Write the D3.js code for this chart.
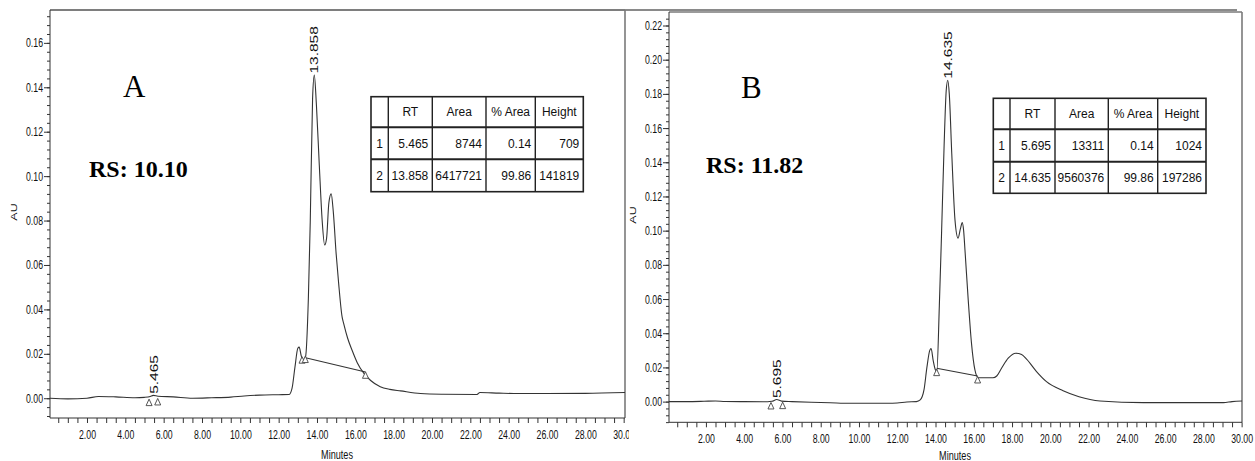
<!DOCTYPE html>
<html><head><meta charset="utf-8">
<script src="https://cdn.jsdelivr.net/npm/d3@7"></script>
<style>
html,body{margin:0;padding:0;background:#fff;}
svg{display:block;}
</style></head><body>
<svg id="chart" width="1255" height="461"></svg>
<script>
// ================= DATA =================
// Chromatogram A (Minutes, AU)
const timeA = [0.07,1.0,2.0,2.6,3.5,4.5,5.0,5.3,5.46,5.7,6.5,7.5,8.5,9.5,10.2,11.0,12.0,12.55,12.7,12.85,13.0,13.07,13.18,13.28,13.40,13.55,13.65,13.77,13.86,13.97,14.12,14.27,14.40,14.50,14.62,14.74,14.85,15.0,15.13,15.31,15.39,15.6,15.83,16.1,16.44,16.8,17.3,17.8,18.36,19.4,20.5,22.35,22.5,23.5,24.5,26.0,28.0,30.07];
const auA   = [0.0000,-0.0003,0.0000,0.0008,0.0006,0.0002,0.0004,0.0008,0.0013,0.0009,0.0006,0.0000,0.0002,0.0005,0.0010,0.0014,0.0016,0.0017,0.0045,0.0140,0.0225,0.0230,0.0190,0.0172,0.0185,0.0450,0.0800,0.1350,0.1455,0.1320,0.1050,0.0800,0.0690,0.0720,0.0880,0.0920,0.0840,0.0650,0.0517,0.0366,0.0337,0.0270,0.0216,0.0160,0.0113,0.0080,0.0052,0.0040,0.0033,0.0021,0.0018,0.0017,0.0026,0.0023,0.0021,0.0021,0.0022,0.0026];
// Chromatogram B (Minutes, AU)
const timeB = [0.07,1.0,1.9,2.5,3.0,4.0,5.0,5.45,5.7,5.95,6.5,7.5,8.5,9.5,10.5,11.5,12.0,12.5,13.0,13.2,13.4,13.55,13.7,13.77,13.88,14.0,14.07,14.2,14.32,14.45,14.56,14.64,14.72,14.85,15.02,15.18,15.30,15.40,15.47,15.54,15.71,15.88,16.06,16.23,16.6,17.0,17.2,17.45,17.8,18.2,18.5,18.76,19.28,19.8,20.67,21.5,22.6,24.86,27.0,29.05,29.5,30.02];
const auB   = [0.0000,0.0000,0.0002,0.0004,0.0001,0.0000,-0.0001,0.0002,0.0012,0.0003,0.0000,-0.0004,-0.0007,-0.0010,-0.0010,-0.0010,-0.0008,-0.0002,0.0000,0.0010,0.0070,0.0200,0.0300,0.0310,0.0240,0.0185,0.0178,0.0560,0.1000,0.1500,0.1820,0.1880,0.1800,0.1450,0.1060,0.0956,0.1010,0.1047,0.1000,0.0887,0.0595,0.0342,0.0185,0.0140,0.0140,0.0140,0.0150,0.0195,0.0254,0.0283,0.0275,0.0248,0.0176,0.0117,0.0064,0.0029,0.0004,-0.0006,-0.0006,-0.0006,0.0000,0.0004];

// Peak labels (retention times) and apex heights
const peakRtA = [5.465, 13.858];
const peakApexA = [0.0013, 0.1455];
const peakRtB = [5.695, 14.635];
const peakApexB = [0.0012, 0.1880];

// Integration baselines (start/end)
const baseTimeA = [13.40, 16.53];
const baseAuA   = [0.0182, 0.0118];
const baseTimeB = [14.06, 16.20];
const baseAuB   = [0.0195, 0.0150];

// Peak start/end markers
const markTimeA = [5.24, 5.69, 13.22, 13.39, 16.53];
const markAuA   = [-0.0004, -0.0001, 0.0187, 0.0190, 0.0119];
const markTimeB = [5.40, 6.01, 14.06, 16.20];
const markAuB   = [-0.0005, -0.0003, 0.0190, 0.0147];

// Tables
const tableHeader = ["", "RT", "Area", "% Area", "Height"];
const tableRowsA = [["1","5.465","8744","0.14","709"],["2","13.858","6417721","99.86","141819"]];
const tableRowsB = [["1","5.695","13311","0.14","1024"],["2","14.635","9560376","99.86","197286"]];

// Panel captions
const panelLetters = ["A", "B"];
const rsTexts = ["RS: 10.10", "RS: 11.82"];

// Tick values
const xTickVals = d3.range(1, 61).map(i => i * 0.5);
const yMinorA = d3.range(-2, 44).map(i => +(i * 0.004).toFixed(3));
const yMinorB = d3.range(-3, 57).map(i => +(i * 0.004).toFixed(3));

// ================= DRAW =================
const svg = d3.select("#chart");
const FONT = "'Liberation Sans', Arial, sans-serif";
const SERIF = "'Liberation Serif', 'Times New Roman', serif";
const SQ = 0.7; // horizontal squeeze of the chart text

svg.append("defs").append("clipPath").attr("id","clipA")
  .append("rect").attr("x",0).attr("y",0).attr("width",629).attr("height",461);

// top gray line across
svg.append("line").attr("x1",50).attr("x2",1237).attr("y1",10).attr("y2",10)
  .attr("stroke","#8a8a8a").attr("stroke-width",2);

function isMajor(v){ return Math.abs(v/0.02 - Math.round(v/0.02)) < 1e-6; }
function isMajorX(v){ return Math.abs(v/2 - Math.round(v/2)) < 1e-6; }

function drawPanel(cfg){
  const g = svg.append("g");
  if (cfg.clip) g.attr("clip-path","url(#" + cfg.clip + ")");
  const x = cfg.x, y = cfg.y;
  const [x0, x1] = x.range();
  const [yb, yt] = y.range();

  // frame (top + right)
  g.append("line").attr("x1",x0).attr("x2",x1).attr("y1",yt).attr("y2",yt)
    .attr("stroke","#7a7a7a").attr("stroke-width",1.6);
  g.append("line").attr("x1",x1).attr("x2",x1).attr("y1",yt).attr("y2",yb)
    .attr("stroke","#7a7a7a").attr("stroke-width",1.6);

  // y minor ticks
  const yVals = cfg.yMinor.filter(v => v >= y.domain()[0] && v <= y.domain()[1]);
  g.append("g").attr("transform",`translate(${x0},0)`)
    .call(d3.axisLeft(y).tickValues(yVals).tickSize(3).tickFormat(""))
    .call(s => s.select(".domain").remove())
    .selectAll("line").attr("stroke","#333");
  // y major ticks + labels
  const ya = g.append("g").attr("transform",`translate(${x0},0)`)
    .call(d3.axisLeft(y).tickValues(yVals.filter(isMajor)).tickSize(6).tickSizeOuter(0).tickFormat(d3.format(".2f")));
  ya.select(".domain").attr("stroke","#333").attr("d",`M0,${yb}V${yt}`);
  ya.selectAll("line").attr("stroke","#333");
  ya.selectAll("text").attr("x",0).attr("transform","translate(-7,0) scale(" + SQ + ",1)")
    .attr("font-family",FONT).attr("font-size",12.5).attr("fill","#111");

  // x axis
  const xa = g.append("g").attr("transform",`translate(0,${yb})`)
    .call(d3.axisBottom(x).tickValues(xTickVals).tickSize(5).tickSizeOuter(0).tickPadding(7)
      .tickFormat(d => isMajorX(d) ? d3.format(".2f")(d) : ""));
  xa.select(".domain").attr("stroke","#333").attr("d",`M${x0},0H${x1}`);
  xa.selectAll("line").attr("stroke","#333");
  xa.selectAll("text").attr("transform","scale(" + SQ + ",1)")
    .attr("x", 0)
    .attr("font-family",FONT).attr("font-size",12.5).attr("fill","#111");

  // axis titles
  g.append("text").attr("transform",`translate(${cfg.auX},${cfg.auY}) scale(${SQ},1) rotate(-90)`)
    .attr("text-anchor","middle").attr("dy","0.35em")
    .attr("font-family",FONT).attr("font-size",12.5).attr("fill","#111").text("AU");
  g.append("text").attr("transform",`translate(${cfg.minX},${cfg.minY}) scale(0.76,1)`)
    .attr("text-anchor","middle")
    .attr("font-family",FONT).attr("font-size",12).attr("fill","#111").text("Minutes");

  // trace
  const line = d3.line().x(i => x(cfg.t[i])).y(i => y(cfg.v[i])).curve(d3.curveMonotoneX);
  g.append("path").attr("d", line(d3.range(cfg.t.length)))
    .attr("fill","none").attr("stroke","#333").attr("stroke-width",1.1);

  // baseline
  g.append("line")
    .attr("x1",x(cfg.bt[0])).attr("y1",y(cfg.bv[0]))
    .attr("x2",x(cfg.bt[1])).attr("y2",y(cfg.bv[1]))
    .attr("stroke","#333").attr("stroke-width",1.1);

  // markers
  g.selectAll(null).data(d3.range(cfg.mt.length)).enter().append("path")
    .attr("d", i => {
      const px = x(cfg.mt[i]), py = y(cfg.mv[i]);
      return `M${px},${py}L${px-3},${py+6.5}L${px+3},${py+6.5}Z`;
    })
    .attr("fill","#fff").attr("stroke","#444").attr("stroke-width",0.9);

  // peak labels
  g.selectAll(null).data(d3.range(cfg.pr.length)).enter().append("text")
    .attr("transform", i => `translate(${x(cfg.pr[i])},${y(cfg.pa[i]) - 1.5}) scale(${SQ + 0.05},1) rotate(-90)`)
    .attr("dy","0.36em").attr("text-anchor","start")
    .attr("font-family",FONT).attr("font-size",15.5).attr("fill","#111")
    .text(i => d3.format(".3f")(cfg.pr[i]));

  // captions
  g.append("text").attr("x",cfg.letterX).attr("y",cfg.letterY)
    .attr("font-family",SERIF).attr("font-size",31).attr("fill","#000").text(cfg.letter);
  g.append("text").attr("x",cfg.rsX).attr("y",cfg.rsY)
    .attr("font-family",SERIF).attr("font-weight","bold").attr("font-size",24).attr("fill","#000").text(cfg.rs);

  // table
  const cx = cfg.tabX, cy = cfg.tabY;
  const tg = g.append("g");
  tg.append("rect").attr("x",cx[0]).attr("y",cy[0]).attr("width",cx[5]-cx[0]).attr("height",cy[3]-cy[0])
    .attr("fill","#fff").attr("stroke","#222").attr("stroke-width",1.6);
  cx.slice(1,5).forEach(v => tg.append("line").attr("x1",v).attr("x2",v).attr("y1",cy[0]).attr("y2",cy[3])
    .attr("stroke","#222").attr("stroke-width",1.4));
  cy.slice(1,3).forEach(v => tg.append("line").attr("x1",cx[0]).attr("x2",cx[5]).attr("y1",v).attr("y2",v)
    .attr("stroke","#222").attr("stroke-width",2));
  tableHeader.forEach((h,j) => {
    if (!h) return;
    tg.append("text").attr("x",(cx[j]+cx[j+1])/2).attr("y",(cy[0]+cy[1])/2 + 4.3)
      .attr("text-anchor","middle").attr("font-family",FONT).attr("font-size",12).attr("fill","#111").text(h);
  });
  cfg.rows.forEach((row,r) => {
    row.forEach((val,j) => {
      const t = tg.append("text").attr("y",(cy[r+1]+cy[r+2])/2 + 4.3)
        .attr("font-family",FONT).attr("font-size",12).attr("fill","#111").text(val);
      if (j === 0) t.attr("x",(cx[0]+cx[1])/2).attr("text-anchor","middle");
      else t.attr("x",cx[j+1]-4).attr("text-anchor","end");
    });
  });
}

drawPanel({
  clip:"clipA",
  x: d3.scaleLinear().domain([0.07, 30.07]).range([50, 625]),
  y: d3.scaleLinear().domain([-0.0089, 0.1748]).range([418, 10]),
  yMinor: yMinorA,
  t: timeA, v: auA, bt: baseTimeA, bv: baseAuA, mt: markTimeA, mv: markAuA,
  pr: peakRtA, pa: peakApexA,
  auX: 13.5, auY: 212, minX: 337, minY: 459,
  letter: panelLetters[0], letterX: 123, letterY: 97,
  rs: rsTexts[0], rsX: 89, rsY: 177,
  tabX: [371, 388.3, 432.3, 486, 535.3, 583.3], tabY: [96.7, 127.3, 159.3, 191.7],
  rows: tableRowsA
});

drawPanel({
  clip:null,
  x: d3.scaleLinear().domain([0.07, 30.02]).range([669, 1242]),
  y: d3.scaleLinear().domain([-0.0121, 0.2279]).range([422.3, 12]),
  yMinor: yMinorB,
  t: timeB, v: auB, bt: baseTimeB, bv: baseAuB, mt: markTimeB, mv: markAuB,
  pr: peakRtB, pa: peakApexB,
  auX: 633, auY: 215, minX: 955, minY: 460,
  letter: panelLetters[1], letterX: 741, letterY: 98,
  rs: rsTexts[1], rsX: 706, rsY: 173,
  tabX: [993.3, 1010, 1055, 1108.3, 1157.7, 1206], tabY: [98.3, 129.3, 161.7, 193.3],
  rows: tableRowsB
});
</script>
</body></html>
